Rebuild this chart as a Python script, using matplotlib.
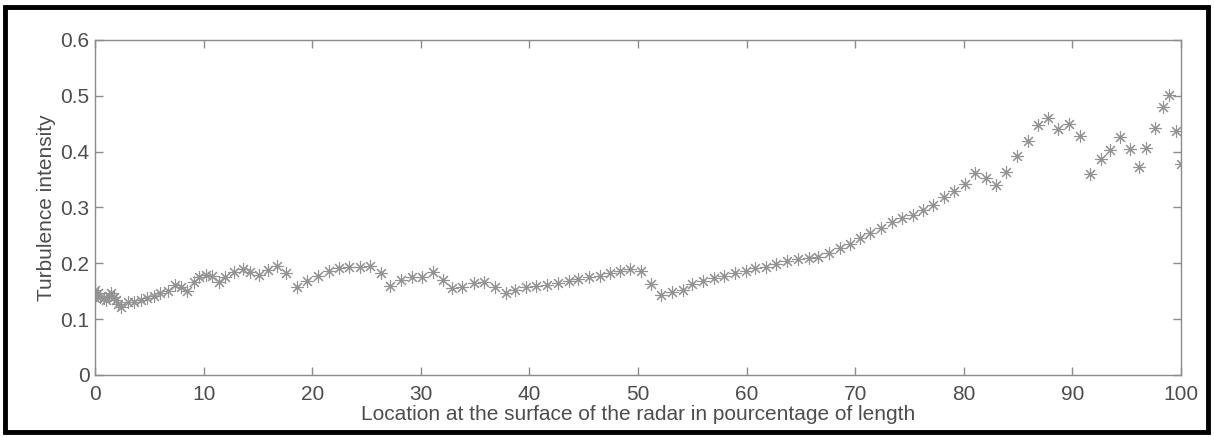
import matplotlib.pyplot as plt
from matplotlib.patches import Rectangle

# location (% of length) and turbulence intensity
location = [
    0.0, 0.0, 0.3, 0.5, 0.8, 1.0, 1.3, 1.5, 1.7, 1.9, 2.1, 2.4,
    3.0, 3.6, 4.2, 4.8, 5.4, 6.0, 6.7, 7.4, 7.9, 8.5, 9.1, 9.6,
    10.2, 10.8, 11.4, 12.0, 12.8, 13.6, 14.3, 15.1, 15.9, 16.8, 17.6, 18.6,
    19.5, 20.5, 21.5, 22.5, 23.4, 24.4, 25.3, 26.3, 27.2, 28.2, 29.2, 30.1,
    31.1, 32.0, 32.9, 33.8, 34.9, 35.8, 36.8, 37.8, 38.7, 39.7, 40.6, 41.6,
    42.6, 43.6, 44.5, 45.5, 46.5, 47.4, 48.3, 49.3, 50.3, 51.2, 52.1, 53.1,
    54.1, 55.0, 56.0, 57.0, 57.9, 58.9, 59.9, 60.8, 61.8, 62.7, 63.7, 64.7,
    65.7, 66.6, 67.6, 68.6, 69.5, 70.4, 71.4, 72.4, 73.4, 74.3, 75.3, 76.2,
    77.2, 78.2, 79.1, 80.1, 81.0, 82.0, 83.0, 83.9, 84.9, 85.9, 86.8, 87.8,
    88.7, 89.7, 90.7, 91.6, 92.6, 93.5, 94.4, 95.3, 96.1, 96.8, 97.6, 98.3,
    98.9, 99.5, 100.0,
]
intensity = [
    0.153, 0.137, 0.146, 0.140, 0.138, 0.135, 0.142, 0.146, 0.140, 0.134, 0.128, 0.121,
    0.131, 0.131, 0.134, 0.137, 0.141, 0.146, 0.151, 0.161, 0.158, 0.151, 0.167, 0.175,
    0.179, 0.177, 0.167, 0.176, 0.185, 0.189, 0.185, 0.179, 0.188, 0.195, 0.183, 0.158,
    0.168, 0.178, 0.186, 0.191, 0.194, 0.194, 0.195, 0.183, 0.160, 0.170, 0.175, 0.175,
    0.184, 0.171, 0.155, 0.158, 0.164, 0.167, 0.158, 0.146, 0.152, 0.158, 0.159, 0.161,
    0.165, 0.169, 0.172, 0.175, 0.178, 0.182, 0.187, 0.190, 0.186, 0.163, 0.143, 0.149,
    0.153, 0.163, 0.169, 0.173, 0.177, 0.182, 0.187, 0.191, 0.193, 0.199, 0.205, 0.207,
    0.209, 0.212, 0.219, 0.228, 0.234, 0.245, 0.254, 0.263, 0.274, 0.282, 0.286, 0.295,
    0.304, 0.318, 0.330, 0.342, 0.361, 0.353, 0.340, 0.364, 0.393, 0.419, 0.447, 0.460,
    0.440, 0.449, 0.428, 0.360, 0.387, 0.403, 0.427, 0.405, 0.372, 0.407, 0.443, 0.480,
    0.501, 0.437, 0.378,
]

plt.rcParams["font.family"] = ["Liberation Sans", "DejaVu Sans"]

fig = plt.figure(figsize=(12.14, 4.37), dpi=100)
ax = fig.add_axes([0.0783, 0.1419, 0.8945, 0.7666])

ax.plot(location, intensity, linestyle="none", marker=(8, 2, 0),
        markersize=9, markeredgewidth=0.8, color="#939393")

ax.set_xlim(0, 100)
ax.set_ylim(0, 0.6)
ax.set_xticks(range(0, 101, 10))
ax.set_yticks([0, 0.1, 0.2, 0.3, 0.4, 0.5, 0.6])
ax.set_yticklabels(["0", "0.1", "0.2", "0.3", "0.4", "0.5", "0.6"])

text_color = "#4d4d4d"
for side in ax.spines.values():
    side.set_color("#8c8c8c")
    side.set_linewidth(1.0)
ax.tick_params(direction="in", length=6, width=1.0, color="#8c8c8c",
               top=True, right=True, labelsize=15, labelcolor=text_color)
ax.tick_params(axis="x", pad=7)
ax.tick_params(axis="y", pad=4)
ax.set_xlabel("Location at the surface of the radar in pourcentage of length",
              fontsize=15, color=text_color, labelpad=1)
ax.set_ylabel("Turbulence intensity", fontsize=15, color=text_color, labelpad=3)

# black frame around the whole picture
fig.patches.append(Rectangle((0.004, 0.012), 0.991, 0.973, transform=fig.transFigure,
                             fill=False, edgecolor="black", linewidth=3.5))

fig.savefig("out.png", dpi=100)
